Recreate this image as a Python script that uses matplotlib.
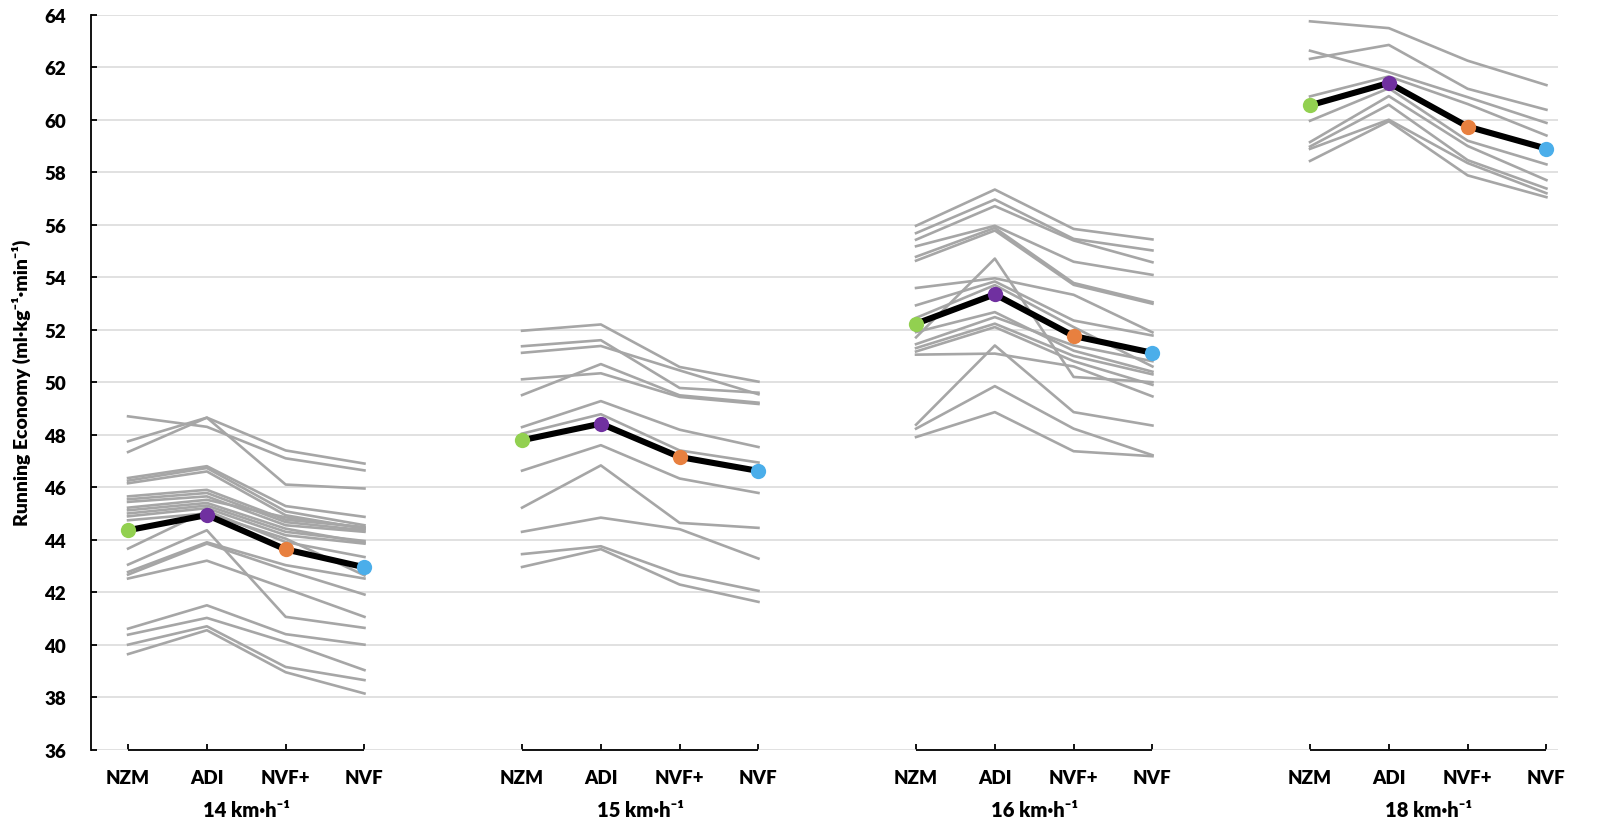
import numpy as np
import matplotlib.pyplot as plt

plt.rcParams['font.family'] = ['Lato', 'DejaVu Sans']
plt.rcParams['font.weight'] = 'bold'

conditions = ['NZM', 'ADI', 'NVF+', 'NVF']
speeds = ['14 km·h⁻¹', '15 km·h⁻¹', '16 km·h⁻¹', '18 km·h⁻¹']
cond_colors = ['#92D050', '#7030A0', '#E8803F', '#4BAEEA']

# each row = one runner: NZM, ADI, NVF+, NVF  (ml/kg/min)
ind_14 = [
    [48.70, 48.30, 47.10, 46.64],
    [47.75, 48.65, 47.40, 46.90],
    [47.34, 48.65, 46.10, 45.95],
    [46.35, 46.80, 45.28, 44.87],
    [46.25, 46.73, 45.08, 44.55],
    [46.15, 46.60, 44.93, 44.42],
    [45.65, 45.90, 44.76, 44.48],
    [45.54, 45.78, 44.67, 44.36],
    [45.44, 45.65, 44.55, 44.30],
    [45.22, 45.52, 44.85, 44.45],
    [45.12, 45.40, 44.42, 43.89],
    [45.00, 45.30, 44.30, 43.95],
    [44.89, 45.20, 44.17, 43.85],
    [44.74, 45.00, 44.04, 42.64],
    [43.66, 45.10, 43.91, 43.34],
    [43.05, 44.36, 41.06, 40.64],
    [42.77, 43.90, 43.03, 42.52],
    [42.67, 43.85, 42.84, 41.91],
    [42.52, 43.20, 42.14, 41.06],
    [40.61, 41.50, 40.40, 40.00],
    [40.38, 41.02, 40.10, 39.03],
    [40.00, 40.70, 39.15, 38.65],
    [39.64, 40.55, 38.95, 38.14],
]
ind_15 = [
    [51.96, 52.20, 50.58, 50.02],
    [51.37, 51.60, 49.78, 49.60],
    [51.12, 51.38, 50.45, 49.54],
    [50.11, 50.34, 49.44, 49.17],
    [49.51, 50.69, 49.50, 49.22],
    [48.29, 49.28, 48.19, 47.53],
    [48.04, 48.78, 47.40, 46.94],
    [46.63, 47.60, 46.33, 45.78],
    [45.22, 46.83, 44.64, 44.45],
    [44.30, 44.84, 44.40, 43.28],
    [43.45, 43.75, 42.67, 42.05],
    [42.96, 43.64, 42.29, 41.63],
]
ind_16 = [
    [55.96, 57.34, 55.84, 55.44],
    [55.68, 56.96, 55.46, 55.02],
    [55.43, 56.71, 55.40, 54.57],
    [55.18, 55.96, 54.59, 54.09],
    [54.78, 55.88, 53.78, 53.05],
    [54.63, 55.78, 53.71, 52.99],
    [53.59, 53.96, 53.33, 51.90],
    [52.93, 53.84, 52.35, 51.78],
    [52.45, 53.70, 52.10, 50.60],
    [51.91, 52.67, 51.20, 50.40],
    [51.71, 54.71, 50.20, 50.00],
    [51.45, 52.48, 51.40, 50.80],
    [51.30, 52.23, 51.00, 50.30],
    [51.17, 52.10, 50.80, 49.90],
    [51.05, 51.09, 50.60, 49.46],
    [48.38, 51.40, 48.86, 48.35],
    [48.23, 49.85, 48.23, 47.22],
    [47.91, 48.86, 47.37, 47.18],
]
ind_18 = [
    [63.75, 63.49, 62.25, 61.32],
    [62.32, 62.85, 61.18, 60.38],
    [62.63, 61.81, 60.86, 59.88],
    [60.89, 61.65, 60.60, 59.40],
    [59.96, 61.20, 59.20, 58.30],
    [59.15, 60.90, 59.00, 57.70],
    [58.98, 60.57, 58.46, 57.38],
    [58.89, 60.00, 58.35, 57.20],
    [58.43, 59.94, 57.88, 57.05],
]

mean_14 = [44.36, 44.94, 43.63, 42.95]
mean_15 = [47.79, 48.42, 47.15, 46.62]
mean_16 = [52.23, 53.35, 51.76, 51.12]
mean_18 = [60.55, 61.40, 59.74, 58.90]

individuals = [ind_14, ind_15, ind_16, ind_18]
means = [mean_14, mean_15, mean_16, mean_18]

fig = plt.figure(figsize=(16, 8.29), dpi=100)
ax = fig.add_axes([0.0569, 0.0945, 0.917, 0.8865])

gap = 5  # categories per group incl. the empty space
all_pos = []
for g in range(len(speeds)):
    pos = np.arange(len(conditions)) + g * gap
    all_pos.extend(pos)
    for row in individuals[g]:
        ax.plot(pos, row, color='#A6A6A6', lw=1.9, zorder=2)
    ax.plot(pos, means[g], color='black', lw=4.4, zorder=3)
    for i in range(len(conditions)):
        ax.plot(pos[i], means[g][i], 'o', ms=11, color=cond_colors[i],
                mec='none', zorder=4)
    # bracket under each group
    ax.hlines(36, pos[0], pos[-1], color='black', lw=1.3, clip_on=False, zorder=5)
    ax.annotate(speeds[g], xy=(pos.mean(), 0), xycoords=('data', 'axes fraction'),
                xytext=(0, -43), textcoords='offset points', ha='center', va='center',
                fontsize=14.5, fontweight='heavy')

ax.set_ylim(36, 64)
ax.set_xlim(-0.47, 18.15)
ax.set_yticks(np.arange(36, 65, 2))
ax.set_xticks(all_pos)
ax.set_xticklabels(conditions * len(speeds))

ax.grid(axis='y', color='#D9D9D9', lw=1.1, zorder=0)
ax.set_axisbelow(True)
for s in ['top', 'right', 'bottom']:
    ax.spines[s].set_visible(False)
ax.spines['left'].set_linewidth(1.3)
ax.spines['left'].set_color('black')

ax.tick_params(axis='y', direction='in', length=4.5, width=1.3, pad=18, labelsize=13.5)
ax.tick_params(axis='x', direction='in', length=4.5, width=1.3, pad=14, labelsize=13.5)
for lbl in ax.get_xticklabels() + ax.get_yticklabels():
    lbl.set_fontweight('heavy')

fig.text(0.0135, 0.538, 'Running Economy (ml·kg⁻¹·min⁻¹)', rotation=90,
         ha='center', va='center', fontsize=14, fontweight='heavy')

fig.savefig('out.png', dpi=100)
